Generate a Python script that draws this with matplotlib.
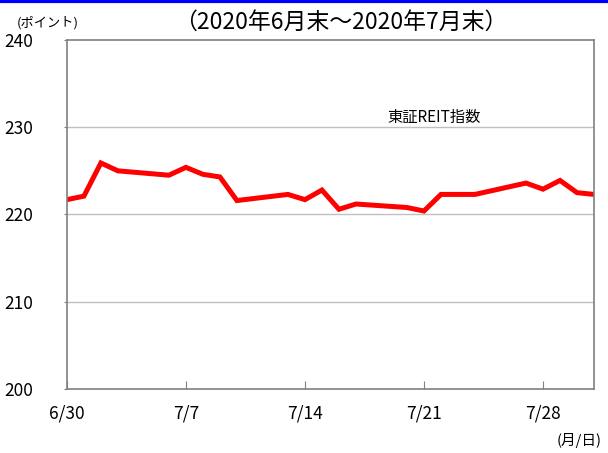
import matplotlib.pyplot as plt
import matplotlib.dates as mdates
import numpy as np
import pandas as pd

plt.rcParams['font.family'] = ['Noto Sans CJK JP', 'DejaVu Sans']

# trading days and index values
dates = ["2020-06-30", "2020-07-01", "2020-07-02", "2020-07-03", "2020-07-06",
         "2020-07-07", "2020-07-08", "2020-07-09", "2020-07-10", "2020-07-13",
         "2020-07-14", "2020-07-15", "2020-07-16", "2020-07-17", "2020-07-20",
         "2020-07-21", "2020-07-22", "2020-07-23", "2020-07-24", "2020-07-27",
         "2020-07-28", "2020-07-29", "2020-07-30", "2020-07-31"]
values = [221.7, 222.1, 225.9, 225.0, 224.5,
          225.4, 224.6, 224.3, 221.6, 222.3,
          221.7, 222.8, 220.6, 221.2, 220.8,
          220.4, 222.3, 222.3, 222.3, 223.6,
          222.9, 223.9, 222.5, 222.3]
tick_dates = ["2020-06-30", "2020-07-07", "2020-07-14", "2020-07-21", "2020-07-28"]
tick_labels = ["6/30", "7/7", "7/14", "7/21", "7/28"]
y_ticks = [200, 210, 220, 230, 240]

x = pd.to_datetime(dates)

fig = plt.figure(figsize=(6.08, 4.53), dpi=100)
ax = fig.add_axes([0.110, 0.141, 0.867, 0.771])

# blue strip at the top
fig.add_artist(plt.Line2D([0, 1], [0.997, 0.997], color='#0000ff', linewidth=3,
                          transform=fig.transFigure))

ax.plot(x, values, color='#ff0000', linewidth=3.6, solid_joinstyle='miter')

ax.set_xlim(pd.Timestamp("2020-06-30"), pd.Timestamp("2020-07-31"))
ax.set_ylim(200, 240)
ax.set_yticks(y_ticks)
ax.set_xticks(pd.to_datetime(tick_dates))
ax.set_xticklabels(tick_labels)

for v in [210, 220, 230]:
    ax.axhline(v, color='#c0c0c0', linewidth=1, zorder=0)

for s in ax.spines.values():
    s.set_color('#808080')
    s.set_linewidth(1.2)

ax.tick_params(axis='x', direction='in', length=6, pad=11, color='#808080',
               labelsize=12.5)
ax.tick_params(axis='y', direction='out', length=2, pad=22, color='#808080',
               labelsize=12.5)

fig.text(0.56, 0.950, "（2020年6月末～2020年7月末）", ha='center', va='center',
         fontsize=16.5)
fig.text(0.028, 0.950, "(ポイント)", ha='left', va='center', fontsize=9.5)
fig.text(0.916, 0.027, "(月/日)", ha='left', va='center', fontsize=10.5)
ax.text(pd.Timestamp("2020-07-21 14:00"), 231.1, "東証REIT指数", ha='center',
        va='center', fontsize=11)

fig.savefig("out.png", dpi=100)
